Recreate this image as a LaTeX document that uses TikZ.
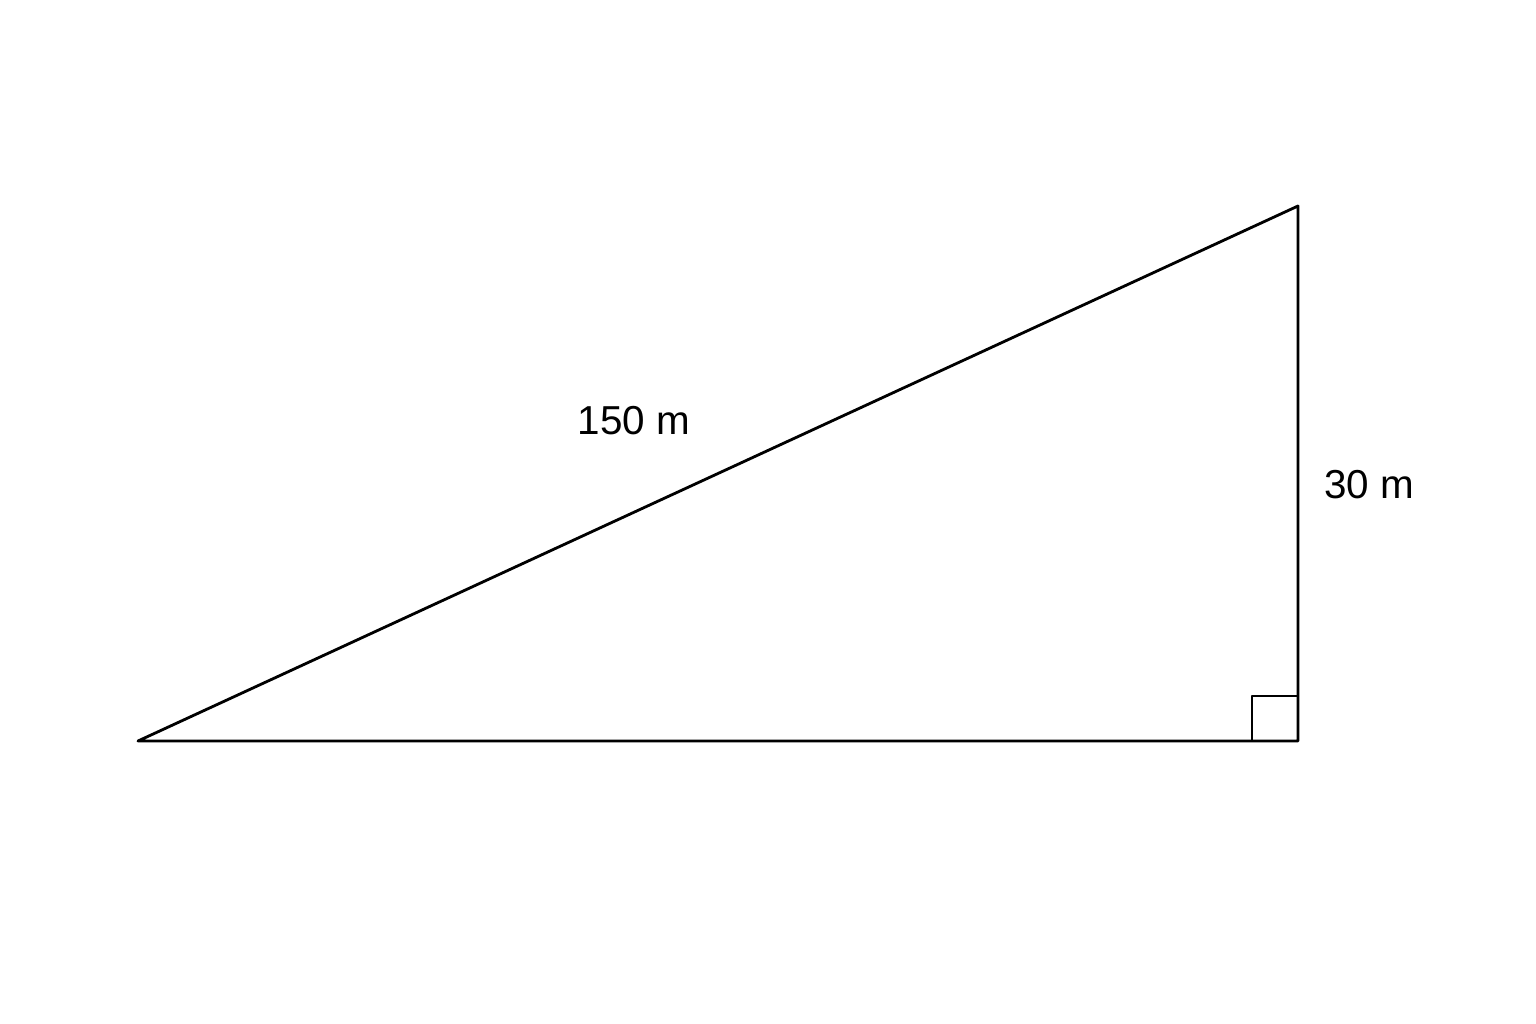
\documentclass[tikz,border=0pt]{standalone}
\usepackage{fontspec}
\setmainfont{Liberation Sans}
\begin{document}
\begin{tikzpicture}[x=0.02cm,y=-0.02cm,
  edge/.style={line width=1.6pt,line join=round},
  lbl/.style={font=\fontsize{23}{26}\selectfont,inner sep=0pt}]
\useasboundingbox (0,0) rectangle (1536,1024);
\coordinate (A) at (138,741);
\coordinate (B) at (1298,741);
\coordinate (C) at (1298,206);
\draw[edge] (A) -- (B) -- (C) -- cycle;
\coordinate (R1) at (1252,741);
\coordinate (R2) at (1252,696);
\coordinate (R3) at (1298,696);
\draw[edge] (R1) -- (R2) -- (R3);
\node[lbl] (hyp) at (634,421) {150 m};
\node[lbl] (side) at (1369,485) {30 m};
\end{tikzpicture}
\end{document}
